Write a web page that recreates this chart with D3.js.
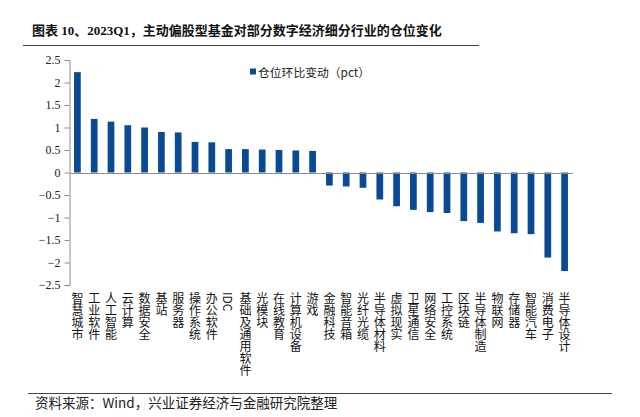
<!DOCTYPE html>
<html><head><meta charset="utf-8">
<script src="https://cdn.jsdelivr.net/npm/d3@7"></script>
<style>
html,body{margin:0;padding:0;background:#fff;}
svg{display:block;}
</style></head>
<body>
<svg id="c" width="640" height="417"></svg>
<script>
const categories = ["智慧城市","工业软件","人工智能","云计算","数据安全","基站","服务器","操作系统","办公软件","IDC","基础及通用软件","光模块","在线教育","计算机设备","游戏","金融科技","智能音箱","光纤光缆","半导体材料","虚拟现实","卫星通信","网络安全","工控系统","区块链","半导体制造","物联网","存储器","智能汽车","消费电子","半导体设计"];
const values = [2.23,1.19,1.13,1.05,1.00,0.90,0.89,0.68,0.67,0.52,0.52,0.51,0.50,0.49,0.48,-0.29,-0.31,-0.34,-0.60,-0.75,-0.83,-0.88,-0.90,-1.08,-1.12,-1.31,-1.35,-1.37,-1.89,-2.19];
const yTicks = [2.5,2,1.5,1,0.5,0,-0.5,-1,-1.5,-2,-2.5];
const seriesName = "仓位环比变动（pct）";
const title = "图表 10、2023Q1，主动偏股型基金对部分数字经济细分行业的仓位变化";
const source = "资料来源：Wind，兴业证券经济与金融研究院整理";

const svg = d3.select("#c");
const blue = "#0a4a94";
const axisCol = "#8c8c8c";

// title
svg.append("text").attr("x",32).attr("y",35)
  .attr("font-family","'Liberation Serif','Noto Sans CJK SC',serif")
  .attr("font-weight","bold").attr("font-size",13).attr("fill","#111")
  .text(title);
svg.append("line").attr("x1",23).attr("x2",479).attr("y1",45.5).attr("y2",45.5)
  .attr("stroke","#444").attr("stroke-width",1.2);

const x = d3.scaleBand().domain(categories).range([69,573]).paddingInner(0.6).paddingOuter(0.3);
const y = d3.scaleLinear().domain([-2.5,2.5]).range([285,60]);

// y axis
const yAxis = d3.axisLeft(y).tickValues(yTicks).tickSize(5).tickFormat(d=>d3.format("")(d));
const ga = svg.append("g").attr("transform","translate(69.5,0)").call(yAxis);
ga.select(".domain").attr("stroke",axisCol);
ga.selectAll(".tick line").attr("stroke",axisCol);
ga.selectAll(".tick text").attr("font-family","'Liberation Serif',serif").attr("font-size",12).attr("fill","#222").attr("x",-9);

// bars
svg.append("g").selectAll("rect").data(values).join("rect")
  .attr("x",(d,i)=>x(categories[i]))
  .attr("width",x.bandwidth())
  .attr("y",d=>y(Math.max(0,d)))
  .attr("height",d=>Math.abs(y(d)-y(0)))
  .attr("fill",blue);

// zero line
svg.append("line").attr("x1",69.5).attr("x2",573).attr("y1",Math.round(y(0))+0.5).attr("y2",Math.round(y(0))+0.5)
  .attr("stroke",axisCol).attr("stroke-width",1);

// x labels vertical
svg.append("g").selectAll("text").data(categories).join("text")
  .attr("x",d=>x(d)+x.bandwidth()/2)
  .attr("y",292)
  .attr("font-family","'Noto Sans CJK SC',sans-serif")
  .attr("font-size",12).attr("fill","#111")
  .style("writing-mode","vertical-rl")
  .style("text-orientation","mixed")
  .attr("text-anchor","start")
  .text(d=>d);

// legend
svg.append("rect").attr("x",250).attr("y",68.5).attr("width",6).attr("height",6).attr("fill",blue);
svg.append("text").attr("x",258).attr("y",76.5)
  .attr("font-family","'Noto Sans CJK SC',sans-serif").attr("font-size",11.8).attr("fill","#222")
  .text(seriesName);

// footer
svg.append("line").attr("x1",28).attr("x2",612).attr("y1",393.5).attr("y2",393.5)
  .attr("stroke","#444").attr("stroke-width",1);
svg.append("text").attr("x",35).attr("y",408)
  .attr("font-family","'Noto Sans CJK SC',sans-serif").attr("font-size",13.5).attr("fill","#222")
  .text(source);
</script>
</body></html>
